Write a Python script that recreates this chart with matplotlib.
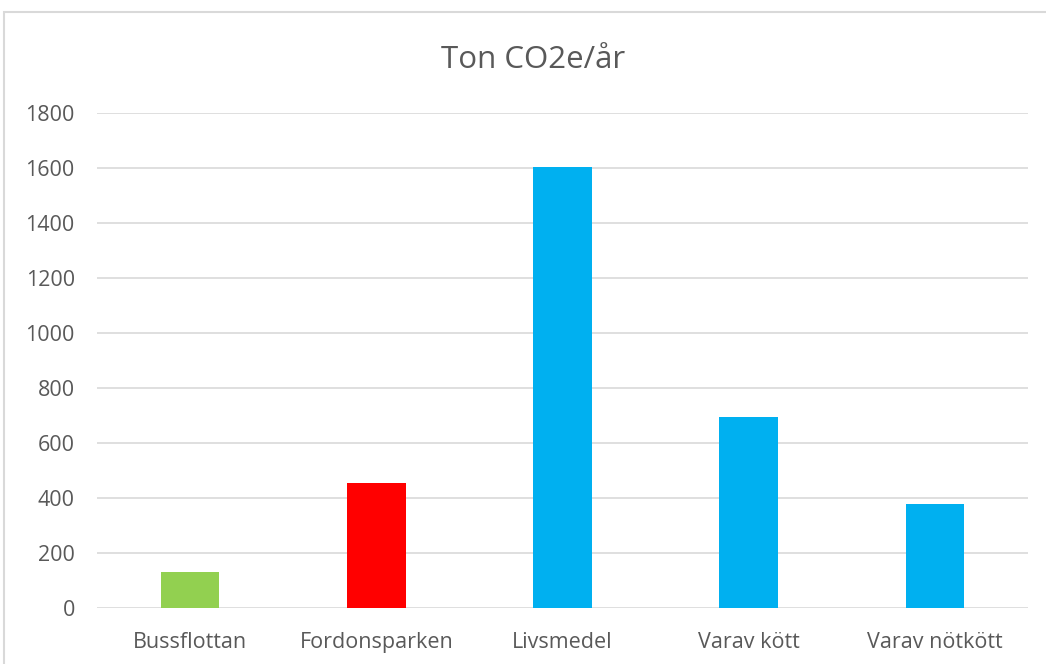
import matplotlib
matplotlib.use("Agg")
from matplotlib import pyplot as plt
from matplotlib.patches import Rectangle

# %% Daten
kategorier = ["Bussflottan", "Fordonsparken", "Livsmedel", "Varav kött", "Varav nötkött"]
varden = [132, 455, 1602, 695, 380]
farger = ["#92D050", "#FF0000", "#00B0F0", "#00B0F0", "#00B0F0"]
yticks = [0, 200, 400, 600, 800, 1000, 1200, 1400, 1600, 1800]

plt.rcParams["font.family"] = ["Open Sans", "DejaVu Sans"]

W, H = 1046, 664
fig = plt.figure(figsize=(W / 100, H / 100), dpi=100)
fig.patches.append(Rectangle((4 / W, -0.2), 1.2, 1.2 - 12 / H, transform=fig.transFigure,
                             fill=False, edgecolor="#D9D9D9", linewidth=1.5))

ax = fig.add_axes([97 / W, 1 - 608 / H, (1028 - 97) / W, (608 - 113) / H])
x = range(len(kategorier))
ax.bar(x, varden, width=0.315, color=farger, zorder=3)

ax.set_xlim(-0.5, len(kategorier) - 0.5)
ax.set_ylim(0, 1800)
ax.set_yticks(yticks)
ax.set_xticks(list(x))
ax.set_xticklabels(kategorier)
ax.grid(axis="y", color="#D9D9D9", linewidth=1.2, zorder=0)
ax.tick_params(axis="both", length=0, colors="#595959", labelsize=15.5)
ax.tick_params(axis="y", pad=16)
ax.tick_params(axis="x", pad=17)
for s in ax.spines.values():
    s.set_visible(False)

fig.text(533 / W, 1 - 68 / H, "Ton CO2e/år", ha="center", va="baseline",
         fontsize=22.5, color="#595959")

fig.savefig("out.png", dpi=100)
